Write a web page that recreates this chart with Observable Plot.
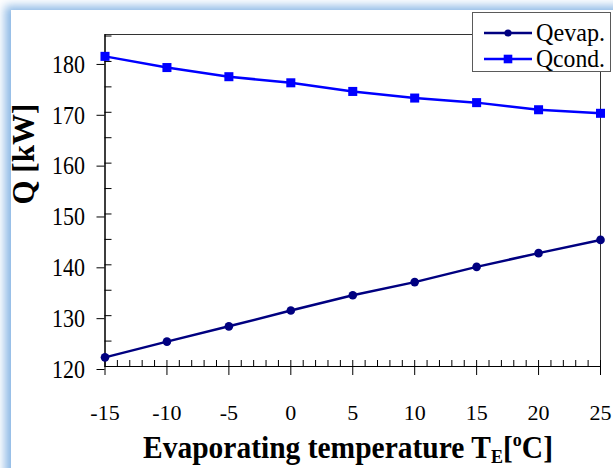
<!DOCTYPE html>
<html>
<head>
<meta charset="utf-8">
<script src="https://cdn.jsdelivr.net/npm/d3@7"></script>
<script src="https://cdn.jsdelivr.net/npm/@observablehq/plot@0.6"></script>
<style>
  html, body { margin: 0; padding: 0; background: #fff; }
  #wrap { position: relative; width: 613px; height: 468px; overflow: hidden; background: #fff; }
  #panel { position: absolute; left: 11px; top: 10px; width: 700px; height: 600px; background: #fff;
           box-shadow: -3px -1px 9px 3px rgba(120, 172, 224, 0.85); }
  #chart { position: absolute; left: 0; top: 0; }
  #legend { position: absolute; left: 472px; top: 12px; width: 139px; height: 60px; box-sizing: border-box;
            border: 1px solid #5a5a5a; background: #fff; }
  text { font-family: "Liberation Serif", "Times New Roman", serif; }
</style>
</head>
<body>
<div id="wrap">
  <div id="panel"></div>
  <div id="chart"></div>
  <div id="legend"></div>
</div>
<script>
// ---- data ----
const temps = [-15, -10, -5, 0, 5, 10, 15, 20, 25];
const qEvap = [121.8, 124.9, 127.9, 131.0, 134.0, 136.6, 139.6, 142.3, 144.9];
const qCond = [181.0, 178.8, 177.0, 175.8, 174.1, 172.8, 171.9, 170.5, 169.8];
const seriesNames = ["Qevap.", "Qcond."];
const xTicks = [-15, -10, -5, 0, 5, 10, 15, 20, 25];
const xMinorTicks = d3.range(-15, 26, 1);
const yTicks = [120, 130, 140, 150, 160, 170, 180];
const yMinorTicks = [120, 125, 130, 135, 140, 145, 150, 155, 160, 165, 170, 175, 180, 185];
const yTitle = "Q [kW]";

// ---- styles ----
const colors = {"Qevap.": "#000080", "Qcond.": "#0000ff"};
const symbols = {"Qevap.": "circle", "Qcond.": "square"};
const radii = {"Qevap.": 4.3, "Qcond.": 5.1};

const W = 613, H = 468;
const mL = 104.5, mR = 13, mT = 34, mB = 102;
const frameW = W - mL - mR, frameH = H - mT - mB;

const evapRows = temps.map((t, i) => ({t, q: qEvap[i]}));
const condRows = temps.map((t, i) => ({t, q: qCond[i]}));
const seriesRows = {"Qevap.": evapRows, "Qcond.": condRows};

const plot = Plot.plot({
  width: W, height: H,
  marginLeft: mL, marginRight: mR, marginTop: mT, marginBottom: mB,
  style: {background: "transparent", fontFamily: "'Liberation Serif', 'Times New Roman', serif", color: "#000", overflow: "visible"},
  x: {domain: [-15, 25]},
  y: {domain: [120, 185.3]},
  marks: [
    Plot.frame({stroke: "#333", strokeWidth: 1}),
    Plot.ruleX(xMinorTicks, {x: d => d, insetTop: frameH - 6, stroke: "#000", strokeWidth: 1}),
    Plot.ruleY(yMinorTicks, {y: d => d, insetRight: frameW - 7, stroke: "#000", strokeWidth: 1}),
    Plot.axisX({ticks: xTicks, tickSize: 9, tickPadding: 29, fontSize: 22, label: null, tickFormat: d => String(d), stroke: "#000"}),
    Plot.axisY({ticks: yTicks, tickSize: 8, tickPadding: 12, fontSize: 26, dy: 3, label: null, tickFormat: d => String(d), stroke: "#000"}),
    Plot.ruleY([120], {stroke: "#000", strokeWidth: 1.2}),
    Plot.ruleX([-15], {stroke: "#000", strokeWidth: 1.2}),
    ...seriesNames.flatMap(s => [
      Plot.line(seriesRows[s], {x: "t", y: "q", stroke: colors[s], strokeWidth: 2.5}),
      Plot.dot(seriesRows[s], {x: "t", y: "q", symbol: symbols[s], r: radii[s], fill: colors[s], stroke: "none"})
    ]),
    Plot.text([yTitle], {frameAnchor: "left", dx: -80.5, dy: 4, rotate: -90, fontSize: 31, fontWeight: "bold", fill: "#000"})
  ]
});
document.getElementById("chart").appendChild(plot);

// compress y tick labels horizontally (tall narrow look)
d3.select(plot).selectAll('g[aria-label="y-axis tick label"] text')
  .attr("textLength", 33).attr("lengthAdjust", "spacingAndGlyphs");

// x-axis title with subscript / superscript
const xt = d3.select(plot).append("text")
  .attr("x", 143).attr("y", 458).attr("text-anchor", "start")
  .attr("font-size", 31).attr("font-weight", "bold").attr("fill", "#000")
  .attr("textLength", 410).attr("lengthAdjust", "spacingAndGlyphs");
xt.append("tspan").text("Evaporating temperature T");
xt.append("tspan").attr("font-size", 19).attr("dy", 5).text("E");
xt.append("tspan").attr("dy", -5).text("[");
xt.append("tspan").attr("font-size", 19).attr("dy", -12).text("o");
xt.append("tspan").attr("dy", 12).text("C]");

// legend
const lg = d3.select("#legend").append("svg").attr("width", 137).attr("height", 58);
seriesNames.forEach((s, i) => {
  const cy = 20 + i * 26;
  lg.append("line").attr("x1", 11).attr("x2", 59).attr("y1", cy).attr("y2", cy)
    .attr("stroke", colors[s]).attr("stroke-width", 2.5);
  if (symbols[s] === "circle") {
    lg.append("circle").attr("cx", 35).attr("cy", cy).attr("r", 3.6).attr("fill", colors[s]);
  } else {
    lg.append("rect").attr("x", 35 - 4.3).attr("y", cy - 4.3).attr("width", 8.6).attr("height", 8.6).attr("fill", colors[s]);
  }
  lg.append("text").attr("x", 63).attr("y", cy + 8).attr("font-size", 25).attr("fill", "#000")
    .attr("textLength", 69).attr("lengthAdjust", "spacingAndGlyphs").text(s);
});
</script>
</body>
</html>
